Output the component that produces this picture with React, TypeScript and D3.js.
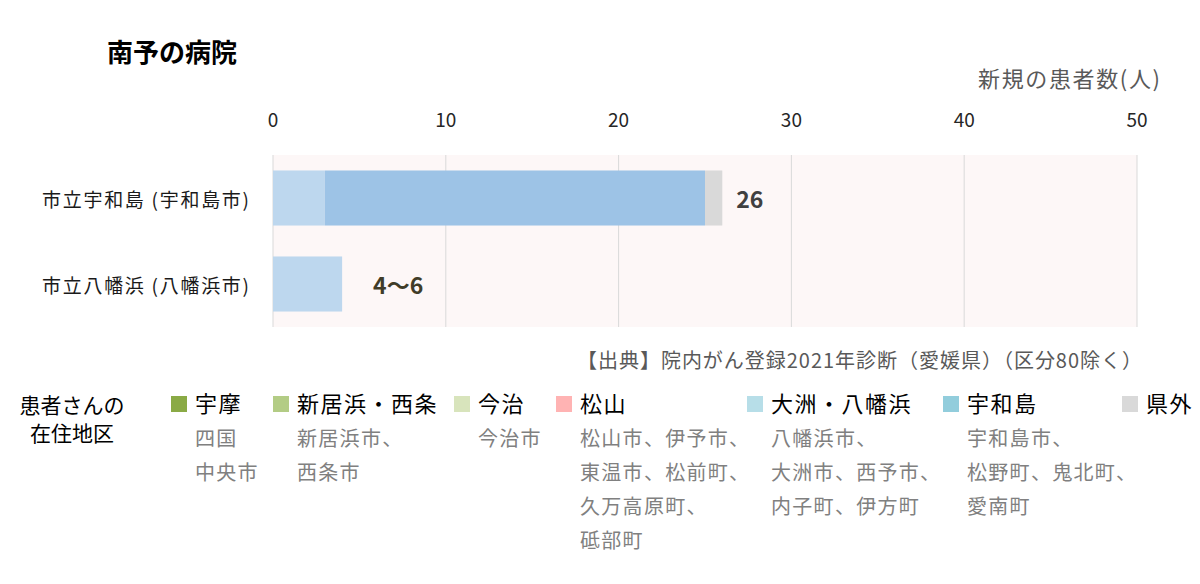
import * as d3 from "d3";

const FONT = "'Noto Sans CJK JP', 'Noto Sans', sans-serif";
const WIDTH = 1200;
const HEIGHT = 584;
const PLOT = { left: 273, right: 1137, top: 155, bottom: 327 };

const hospitals = ["市立宇和島 (宇和島市)", "市立八幡浜 (八幡浜市)"];
const regions = ["宇摩", "新居浜・西条", "今治", "松山", "大洲・八幡浜", "宇和島", "県外"];
// patients per region, one array per hospital
const uwajimaValues = [0, 0, 0, 0, 3, 22, 1];
const yawatahamaValues = [0, 0, 0, 0, 4, 0, 0];
const totalLabels = ["26", "4〜6"];
const xTicks = [0, 10, 20, 30, 40, 50];

const barColors = ["#8AAA45", "#B3CC85", "#D8E4BC", "#FFB3B3", "#BDD7EE", "#9DC3E6", "#D9D9D9"];
const legendColors = ["#8AAA45", "#B3CC85", "#D8E4BC", "#FFB3B3", "#B7DEE8", "#92CDDC", "#D9D9D9"];
const legendX = [171, 273, 454, 556, 747, 943, 1122];
const regionTowns = [
  ["四国", "中央市"],
  ["新居浜市、", "西条市"],
  ["今治市"],
  ["松山市、伊予市、", "東温市、松前町、", "久万高原町、", "砥部町"],
  ["八幡浜市、", "大洲市、西予市、", "内子町、伊方町"],
  ["宇和島市、", "松野町、鬼北町、", "愛南町"],
  [],
];

const valuesByHospital = [uwajimaValues, yawatahamaValues];

export default function App() {
  const x = d3.scaleLinear().domain([0, 50]).range([PLOT.left, PLOT.right]);
  const y = d3
    .scaleBand()
    .domain(hospitals)
    .range([PLOT.top, PLOT.bottom])
    .paddingInner(0.36)
    .paddingOuter(0.18);

  const bars = hospitals.map((h, i) => {
    const vals = valuesByHospital[i];
    const stacked = d3.cumsum(vals);
    const y0 = y(h)!;
    return (
      <g key={h}>
        {vals.map((v, j) =>
          v > 0 ? (
            <rect
              key={j}
              x={x(stacked[j] - v)}
              y={y0}
              width={x(stacked[j]) - x(stacked[j] - v)}
              height={y.bandwidth()}
              fill={barColors[j]}
            />
          ) : null
        )}
        <text
          x={PLOT.left - 24}
          y={y0 + y.bandwidth() / 2}
          textAnchor="end"
          dominantBaseline="central"
          fontSize={19}
          textLength={207}
          lengthAdjust="spacing"
          fill="#1a1a1a"
        >
          {h}
        </text>
        <text
          x={x(d3.sum(vals)) + (i === 0 ? 14 : 31)}
          y={y0 + y.bandwidth() / 2}
          dominantBaseline="central"
          fontSize={23}
          fontWeight="bold"
          fill={i === 0 ? "#404040" : "#403C28"}
        >
          {totalLabels[i]}
        </text>
      </g>
    );
  });

  return (
    <div style={{ position: "absolute", left: 0, top: 0 }}>
      <svg width={WIDTH} height={HEIGHT} fontFamily={FONT}>
        <rect width={WIDTH} height={HEIGHT} fill="#ffffff" />
        <text x={107} y={62} fontSize={26} fontWeight="bold" fill="#000">
          南予の病院
        </text>
        <text x={978} y={87} fontSize={22} textLength={182} lengthAdjust="spacing" fill="#595959">
          新規の患者数(人)
        </text>

        <rect
          x={PLOT.left}
          y={PLOT.top}
          width={PLOT.right - PLOT.left}
          height={PLOT.bottom - PLOT.top}
          fill="#FDF7F7"
        />
        {xTicks.map((t) => (
          <g key={t}>
            <line x1={x(t)} x2={x(t)} y1={PLOT.top} y2={PLOT.bottom} stroke="#D9D9D9" strokeWidth={1} />
            <text x={x(t)} y={127} textAnchor="middle" fontSize={19} fill="#262626">
              {t}
            </text>
          </g>
        ))}
        {bars}

        <text x={577} y={368} fontSize={20} textLength={565} lengthAdjust="spacing" fill="#595959">
          【出典】院内がん登録2021年診断（愛媛県）（区分80除く）
        </text>

        <text x={72} y={413} textAnchor="middle" fontSize={21} fill="#000">
          患者さんの
        </text>
        <text x={72} y={441} textAnchor="middle" fontSize={21} fill="#000">
          在住地区
        </text>

        {regions.map((r, i) => (
          <g key={r}>
            <rect x={legendX[i]} y={396} width={16} height={16} fill={legendColors[i]} />
            <text x={legendX[i] + 24} y={412} fontSize={22} letterSpacing={1.5} fill="#000">
              {r}
            </text>
            {regionTowns[i].map((t, k) => (
              <text key={k} x={legendX[i] + 24} y={446 + k * 34} fontSize={20} letterSpacing={1.3} fill="#808080">
                {t}
              </text>
            ))}
          </g>
        ))}
      </svg>
    </div>
  );
}
